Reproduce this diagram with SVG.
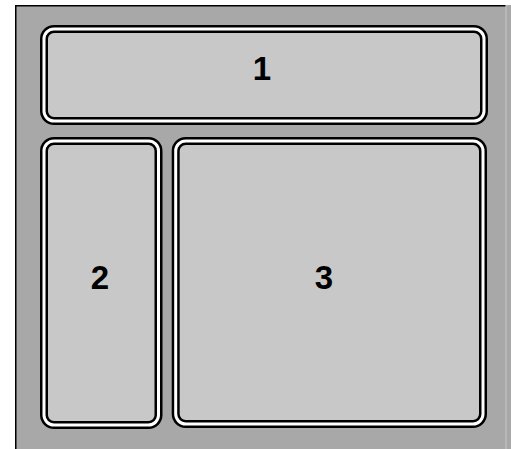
<svg xmlns="http://www.w3.org/2000/svg" width="511" height="449" viewBox="0 0 511 449">
<style>
.o{fill:#c8c8c8;stroke:#000;stroke-width:8}
.w{fill:none;stroke:#fff;stroke-width:3}
.t{font-family:"Liberation Sans",Arial,sans-serif;font-weight:bold;font-size:33px;fill:#000;text-anchor:middle}
</style>
<rect x="0" y="0" width="511" height="449" fill="#fff"/>
<g id="frame">
<rect x="15" y="5" width="496" height="444" fill="#a9a8a8"/>
<line x1="15.75" y1="5" x2="15.75" y2="449" stroke="#000" stroke-width="1.5"/>
<line x1="15" y1="5.75" x2="506" y2="5.75" stroke="#000" stroke-width="1.5"/>
<line x1="506" y1="5" x2="506" y2="449" stroke="#c8c8c8" stroke-width="1"/>
</g>
<g id="node1">
<rect class="o" x="44" y="29" width="440" height="92" rx="10"/>
<rect class="w" x="44" y="29" width="440" height="92" rx="10"/>
<text class="t" x="262" y="80">1</text>
</g>
<g id="node2">
<rect class="o" x="44" y="141" width="114.5" height="284" rx="10"/>
<rect class="w" x="44" y="141" width="114.5" height="284" rx="10"/>
<text class="t" x="100" y="288.5">2</text>
</g>
<g id="node3">
<rect class="o" x="175.7" y="141" width="307.3" height="283" rx="10"/>
<rect class="w" x="175.7" y="141" width="307.3" height="283" rx="10"/>
<text class="t" x="324" y="288.5">3</text>
</g>
<g id="connectors"></g>
</svg>
